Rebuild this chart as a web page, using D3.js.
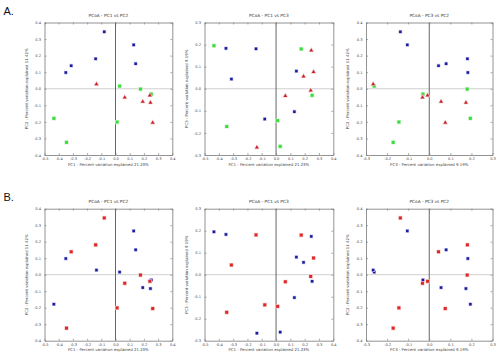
<!DOCTYPE html>
<html>
<head>
<meta charset="utf-8">
<script src="https://cdn.jsdelivr.net/npm/d3@7"></script>
<style>
  html, body { margin: 0; padding: 0; background: #fff; }
  svg { display: block; font-family: "DejaVu Sans", sans-serif; }
</style>
</head>
<body>
<svg id="chart" width="500" height="357"></svg>
<script>
// ---- Data (18 samples, principal coordinates) ----
const sampleIds = ["b1","b2","b3","b4","b5","b6","g1","g2","g3","g4","g5","g6","r1","r2","r3","r4","r5","r6"];
const pc1 = [-0.079, 0.128, -0.140, 0.142, -0.312, -0.350, 0.029, 0.176, 0.252, -0.434, 0.011, -0.345, -0.134, 0.065, 0.192, 0.242, 0.246, 0.262];
const pc2 = [0.344, 0.265, 0.181, 0.151, 0.139, 0.098, 0.016, -0.002, -0.032, -0.179, -0.201, -0.324, 0.028, -0.052, -0.078, -0.040, -0.084, -0.205];
const pc3 = [-0.137, -0.104, 0.181, 0.080, 0.044, 0.183, -0.261, 0.180, -0.030, 0.195, -0.144, -0.171, -0.266, -0.032, 0.056, -0.008, 0.174, 0.076];
// grouping used in row A (three groups) and row B (two groups)
const groupA = ["blue","blue","blue","blue","blue","blue","green","green","green","green","green","green","red","red","red","red","red","red"];
const groupB = ["red","blue","red","blue","red","blue","blue","red","blue","blue","red","red","blue","red","blue","red","blue","red"];

const rowLabels = ["A.", "B."];
const panelTitles = ["PCoA - PC1 vs PC2", "PCoA - PC1 vs PC3", "PCoA - PC3 vs PC2"];
const pcLabels = {
  pc1: "PC1 - Percent variation explained 21.23%",
  pc2: "PC2 - Percent variation explained 11.42%",
  pc3: "PC3 - Percent variation explained 9.19%"
};
const ticksPC1 = [-0.5, -0.4, -0.3, -0.2, -0.1, 0.0, 0.1, 0.2, 0.3, 0.4];
const ticksPC2 = [-0.4, -0.3, -0.2, -0.1, 0.0, 0.1, 0.2, 0.3, 0.4];
const ticksPC3 = [-0.3, -0.2, -0.1, 0.0, 0.1, 0.2, 0.3];
const ticksPC3x = [-0.3, -0.2, -0.1, 0.0, 0.1, 0.2, 0.3];

// ---- Layout / style ----
const pcs = { pc1, pc2, pc3 };
const panels = [
  { x: "pc1", y: "pc2", xd: [-0.5, 0.4], yd: [-0.4, 0.4], xt: ticksPC1, yt: ticksPC2 },
  { x: "pc1", y: "pc3", xd: [-0.5, 0.4], yd: [-0.3, 0.3], xt: ticksPC1, yt: ticksPC3 },
  { x: "pc3", y: "pc2", xd: [-0.3, 0.3], yd: [-0.4, 0.4], xt: ticksPC3x, yt: ticksPC2 }
];
const cols = [[44.5, 172.3], [204.5, 333.3], [366, 492.5]];
const rows = [[22.5, 155], [208.7, 340.7]];
const rowGroups = [groupA, groupB];

const styleA = {
  blue:  { shape: d3.symbolSquare,   size: 6.5, fill: "#1a1a9a", halo: "#c8c8f0" },
  green: { shape: d3.symbolSquare,   size: 9,   fill: "#3ddc3d", halo: "#c8f5c8" },
  red:   { shape: d3.symbolTriangle, size: 6,   fill: "#c8202a", halo: "#f4c8c8" }
};
const styleB = {
  blue:  { shape: d3.symbolSquare, size: 6.5, fill: "#1a1a9a", halo: "#c8c8f0" },
  red:   { shape: d3.symbolSquare, size: 9,   fill: "#dc2828", halo: "#f6c8c8" }
};
const rowStyles = [styleA, styleB];

const svg = d3.select("#chart");
const fmt = d3.format(".1f");
const fmtTick = v => fmt(v).replace("−", "-");

rowLabels.forEach((lab, r) => {
  svg.append("text").attr("x", 3.5).attr("y", r === 0 ? 14.5 : 201)
    .attr("font-size", 11).attr("font-family", "Liberation Sans, Arial, sans-serif")
    .attr("fill", "#111").text(lab);
});

rows.forEach((rr, r) => {
  panels.forEach((p, c) => {
    const [x0, x1] = cols[c];
    const [y0, y1] = rr;
    const xs = d3.scaleLinear().domain(p.xd).range([x0, x1]);
    const ys = d3.scaleLinear().domain(p.yd).range([y1, y0]);
    const g = svg.append("g");

    // zero lines
    g.append("line").attr("x1", x0).attr("x2", x1).attr("y1", ys(0)).attr("y2", ys(0))
      .attr("stroke", "#c4c4c4").attr("stroke-width", 0.8);
    g.append("line").attr("x1", xs(0)).attr("x2", xs(0)).attr("y1", y0).attr("y2", y1)
      .attr("stroke", "#555").attr("stroke-width", 0.9);

    // axes (ticks inward on all four sides)
    const axStyle = sel => {
      sel.selectAll(".domain").attr("stroke", "#777").attr("stroke-width", 0.8);
      sel.selectAll(".tick line").attr("stroke", "#777").attr("stroke-width", 0.6);
      sel.selectAll(".tick text").attr("fill", "#444").attr("font-size", 3.6);
    };
    g.append("g").attr("transform", `translate(0,${y1})`)
      .call(d3.axisBottom(xs).tickValues(p.xt).tickFormat(fmtTick).tickSizeInner(-2).tickSizeOuter(0).tickPadding(2.5))
      .call(axStyle).attr("font-family", null);
    g.append("g").attr("transform", `translate(0,${y0})`)
      .call(d3.axisTop(xs).tickValues(p.xt).tickFormat("").tickSizeInner(-2).tickSizeOuter(0))
      .call(axStyle);
    g.append("g").attr("transform", `translate(${x0},0)`)
      .call(d3.axisLeft(ys).tickValues(p.yt).tickFormat(fmtTick).tickSizeInner(-2).tickSizeOuter(0).tickPadding(3.5))
      .call(axStyle);
    g.append("g").attr("transform", `translate(${x1},0)`)
      .call(d3.axisRight(ys).tickValues(p.yt).tickFormat("").tickSizeInner(-2).tickSizeOuter(0))
      .call(axStyle);
    g.selectAll("text").attr("font-family", "DejaVu Sans, sans-serif");

    // labels
    g.append("text").attr("x", (x0 + x1) / 2).attr("y", y0 - 5.5)
      .attr("text-anchor", "middle").attr("font-size", 4.3).attr("fill", "#333")
      .text(panelTitles[c]);
    g.append("text").attr("x", (x0 + x1) / 2).attr("y", y1 + 10.5)
      .attr("text-anchor", "middle").attr("font-size", 3.9).attr("fill", "#444")
      .text(pcLabels[p.x]);
    g.append("text")
      .attr("transform", `translate(${x0 - 17},${(y0 + y1) / 2}) rotate(-90)`)
      .attr("text-anchor", "middle").attr("font-size", 3.9).attr("fill", "#444")
      .text(pcLabels[p.y]);

    // points
    const groups = rowGroups[r];
    const st = rowStyles[r];
    const xv = pcs[p.x], yv = pcs[p.y];
    const order = d3.range(sampleIds.length);
    g.selectAll("path.pt").data(order).join("path")
      .attr("class", "pt")
      .attr("transform", i => `translate(${xs(xv[i])},${ys(yv[i])})`)
      .attr("d", i => d3.symbol().type(st[groups[i]].shape).size(st[groups[i]].size)())
      .attr("fill", i => st[groups[i]].fill)
      .attr("stroke", i => st[groups[i]].halo)
      .attr("stroke-width", 1.2)
      .attr("paint-order", "stroke");
  });
});
</script>
</body>
</html>
